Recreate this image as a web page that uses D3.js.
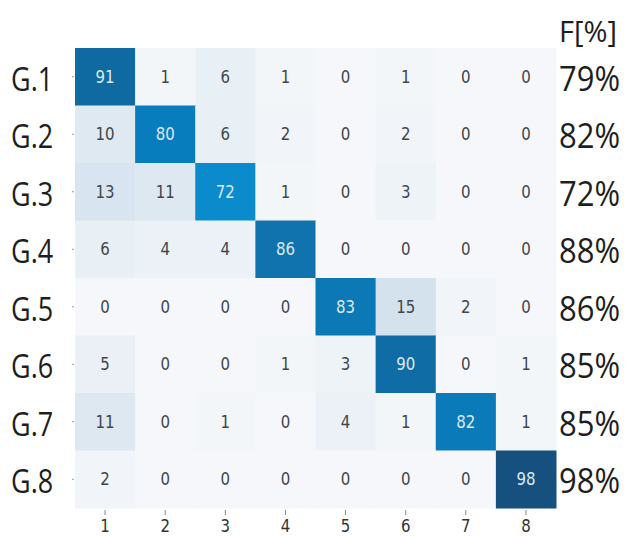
<!DOCTYPE html>
<html lang="en">
<head>
    <meta charset="UTF-8">
    <title>Confusion matrix</title>
    <script src="https://d3js.org/d3.v7.min.js"></script>
    <style>
        body { margin: 0; background: #fff; }
        .cell-text { font-family: "DejaVu Sans", sans-serif; font-size: 15px; }
        .big { font-family: "Open Sans", sans-serif; fill: #1e1e1e; }
    </style>
</head>
<body>
<div id="chart"></div>
<script>
    const rowLabels = ["G.1", "G.2", "G.3", "G.4", "G.5", "G.6", "G.7", "G.8"];
    const colLabels = ["1", "2", "3", "4", "5", "6", "7", "8"];
    const fScores = ["79%", "82%", "72%", "88%", "86%", "85%", "85%", "98%"];
    const matrix = [
        [91, 1, 6, 1, 0, 1, 0, 0],
        [10, 80, 6, 2, 0, 2, 0, 0],
        [13, 11, 72, 1, 0, 3, 0, 0],
        [6, 4, 4, 86, 0, 0, 0, 0],
        [0, 0, 0, 0, 83, 15, 2, 0],
        [5, 0, 0, 1, 3, 90, 0, 1],
        [11, 0, 1, 0, 4, 1, 82, 1],
        [2, 0, 0, 0, 0, 0, 0, 98]
    ];

    const width = 625, height = 536;
    const margin = { top: 48, right: 69, bottom: 28, left: 75 };

    const svg = d3.select("#chart").append("svg")
        .attr("width", width)
        .attr("height", height);

    const x = d3.scaleBand().domain(colLabels).range([margin.left, width - margin.right]);
    const y = d3.scaleBand().domain(rowLabels).range([margin.top, height - margin.bottom]);

    const color = d3.scaleLinear()
        .domain([0, 15, 72, 80, 86, 91, 98])
        .range(["#f5f7fa", "#d4e2ee", "#0b8bcb", "#087dbe", "#1073ae", "#0f6aa2", "#15507f"])
        .clamp(true);

    const cells = [];
    matrix.forEach((row, i) => row.forEach((v, j) => cells.push({ r: rowLabels[i], c: colLabels[j], v: v })));

    svg.selectAll(".cell")
        .data(cells)
        .enter().append("rect")
        .attr("class", "cell")
        .attr("x", d => x(d.c))
        .attr("y", d => y(d.r))
        .attr("width", x.bandwidth() + 0.5)
        .attr("height", y.bandwidth() + 0.5)
        .attr("fill", d => color(d.v));

    // the original figure is stretched a bit vertically, so text gets a y scale
    svg.selectAll(".cell-text")
        .data(cells)
        .enter().append("text")
        .attr("class", "cell-text")
        .attr("transform", d => `translate(${x(d.c) + x.bandwidth() / 2},${y(d.r) + y.bandwidth() / 2}) scale(1,1.12)`)
        .attr("dy", "0.36em")
        .attr("text-anchor", "middle")
        .attr("fill", d => d.v > 50 ? "#dde8f2" : "#40464c")
        .text(d => d.v);

    // bottom axis
    const xAxis = svg.append("g")
        .attr("transform", `translate(0,${height - margin.bottom})`)
        .call(d3.axisBottom(x).tickSize(7));
    xAxis.select(".domain").remove();
    xAxis.selectAll("line").attr("stroke", "#888").attr("y1", 2);
    xAxis.selectAll(".tick text")
        .attr("y", 0)
        .attr("dy", 0)
        .attr("transform", "translate(0,24) scale(1,1.2)")
        .attr("fill", "#333")
        .style("font-family", "DejaVu Sans, sans-serif")
        .style("font-size", "15px");

    // small y ticks
    svg.selectAll(".ytick")
        .data(rowLabels)
        .enter().append("line")
        .attr("x1", margin.left - 3)
        .attr("x2", margin.left - 1)
        .attr("y1", d => y(d) + y.bandwidth() / 2)
        .attr("y2", d => y(d) + y.bandwidth() / 2)
        .attr("stroke", "#999");

    svg.selectAll(".row-label")
        .data(rowLabels)
        .enter().append("text")
        .attr("class", "big")
        .attr("transform", d => `translate(11,${y(d) + y.bandwidth() / 2 + 14}) scale(1,1.22)`)
        .style("font-size", "27px")
        .text(d => d);

    svg.selectAll(".f-label")
        .data(fScores)
        .enter().append("text")
        .attr("class", "big")
        .attr("transform", (d, i) => `translate(559,${y(rowLabels[i]) + y.bandwidth() / 2 + 14}) scale(1,1.1)`)
        .style("font-size", "31px")
        .text(d => d);

    svg.append("text")
        .attr("class", "big")
        .attr("transform", "translate(559,41.5)")
        .style("font-size", "29px")
        .text("F[%]");
</script>
</body>
</html>
